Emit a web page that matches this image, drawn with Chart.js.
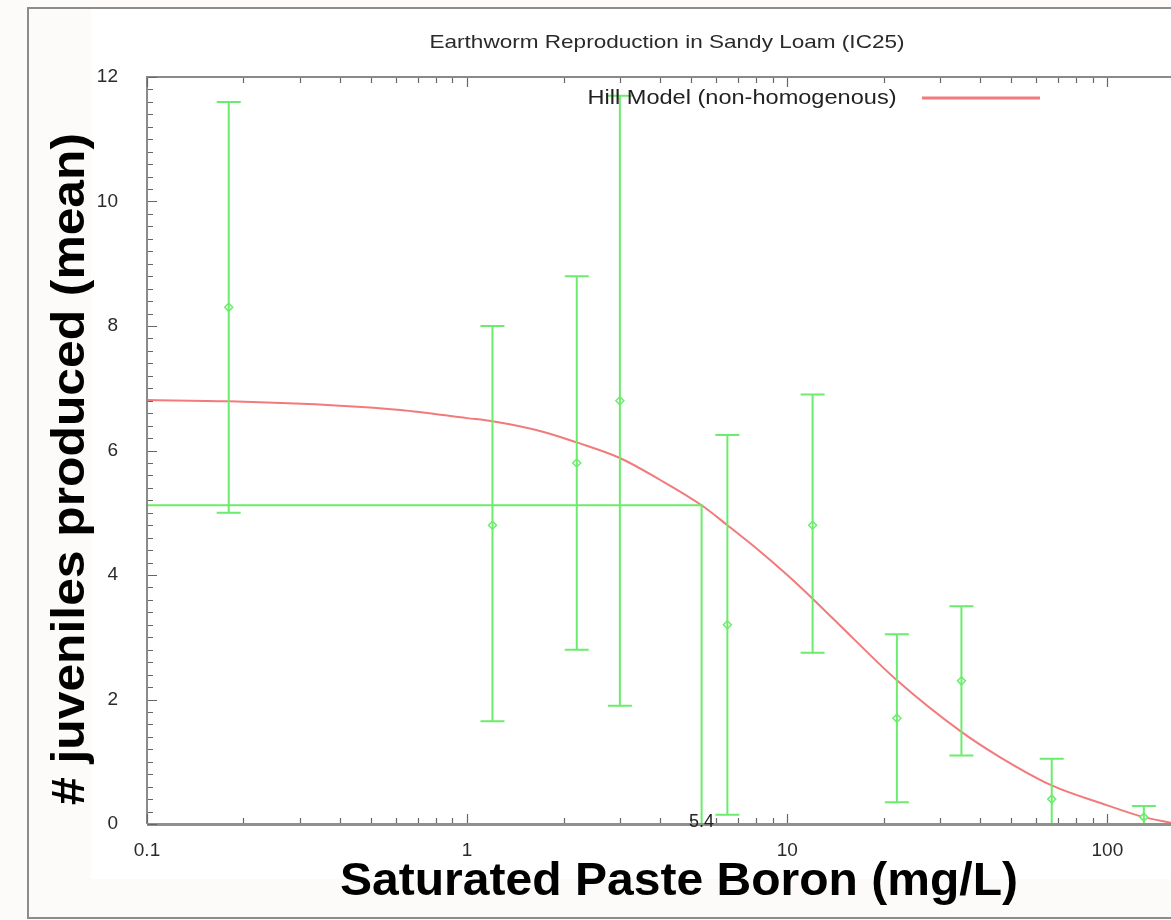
<!DOCTYPE html>
<html>
<head>
<meta charset="utf-8">
<script src="https://cdn.jsdelivr.net/npm/chart.js@4"></script>
<style>
  html, body { margin: 0; padding: 0; background: #fcfbf9; }
  #chart { display: block; }
</style>
</head>
<body>
<canvas id="chart" width="1171" height="920"></canvas>
<script>
// Measured doses (mg/L) with mean juveniles and error bar limits
const doses = [0.18, 1.2, 2.2, 3.0, 6.5, 12, 22, 35, 67, 130];
const means = [8.3, 4.8, 5.8, 6.8, 3.2, 4.8, 1.7, 2.3, 0.4, 0.11];
const upper = [11.6, 8.0, 8.8, 11.7, 6.25, 6.9, 3.05, 3.5, 1.05, 0.29];
const lower = [5.0, 1.65, 2.8, 1.9, 0.15, 2.75, 0.35, 1.1, -0.25, -0.07];

// Hill model curve
const hillDose = [0.1, 0.18, 0.4, 0.62, 1.0, 1.2, 1.7, 2.2, 3.0, 4.0, 5.4, 6.5, 8.0, 10, 12, 16, 22, 35, 46, 67, 100, 130, 158];
const hillResp = [6.81, 6.79, 6.72, 6.65, 6.52, 6.47, 6.31, 6.13, 5.88, 5.53, 5.12, 4.80, 4.43, 4.00, 3.62, 2.99, 2.31, 1.48, 1.08, 0.62, 0.30, 0.11, 0.02];

// IC25 marker
const ic25Dose = 5.4;
const ic25Resp = 5.12;

const xTicks = [0.1, 1, 10, 100];
const yTicks = [0, 2, 4, 6, 8, 10, 12];

const green = 'rgb(108,236,108)';
const red = 'rgb(242,122,122)';
const axisGrey = '#8a8a8a';
const FONT = '"Liberation Sans", Arial, sans-serif';

// draw text squeezed/stretched to a target width
function fitText(ctx, text, cx, cy, w, font, color, rot) {
    ctx.save();
    ctx.translate(cx, cy);
    if (rot) ctx.rotate(rot);
    ctx.font = font;
    const m = ctx.measureText(text).width;
    ctx.scale(w / m, 1);
    ctx.textAlign = 'center';
    ctx.textBaseline = 'middle';
    ctx.fillStyle = color;
    ctx.fillText(text, 0, 0);
    ctx.restore();
}

const framePlugin = {
    id: 'frame',
    beforeDraw(chart) {
        const ctx = chart.ctx;
        ctx.save();
        ctx.fillStyle = '#fcfbf9';
        ctx.fillRect(0, 0, chart.width, chart.height);
        ctx.fillStyle = '#ffffff';
        ctx.fillRect(91, 9, chart.width - 91, 870);
        ctx.strokeStyle = '#8c8c8c';
        ctx.lineWidth = 2;
        ctx.beginPath();
        ctx.moveTo(chart.width + 2, 8);
        ctx.lineTo(28, 8);
        ctx.lineTo(28, 918);
        ctx.lineTo(chart.width + 2, 918);
        ctx.stroke();
        ctx.restore();
    },
    afterDatasetsDraw(chart) {
        const ctx = chart.ctx;
        const xs = chart.scales.x, ys = chart.scales.y;
        const area = chart.chartArea;

        // error bars
        ctx.save();
        ctx.beginPath();
        ctx.rect(area.left, area.top, area.right - area.left, area.bottom - area.top);
        ctx.clip();
        ctx.strokeStyle = green;
        ctx.lineWidth = 2;
        doses.forEach((d, i) => {
            const px = xs.getPixelForValue(d);
            const pt = ys.getPixelForValue(upper[i]);
            const pb = ys.getPixelForValue(lower[i]);
            ctx.beginPath();
            ctx.moveTo(px, pt); ctx.lineTo(px, pb);
            ctx.moveTo(px - 12, pt); ctx.lineTo(px + 12, pt);
            ctx.moveTo(px - 12, pb); ctx.lineTo(px + 12, pb);
            ctx.stroke();
        });
        ctx.restore();

        // axes and inward ticks
        ctx.save();
        ctx.strokeStyle = axisGrey;
        ctx.lineWidth = 2;
        ctx.beginPath();
        ctx.moveTo(area.left, area.bottom);
        ctx.lineTo(area.left, area.top);
        ctx.lineTo(area.right, area.top);
        ctx.stroke();
        ctx.lineWidth = 3;
        ctx.strokeStyle = '#8f8f8f';
        ctx.beginPath();
        ctx.moveTo(area.left, area.bottom + 0.5);
        ctx.lineTo(area.right, area.bottom + 0.5);
        ctx.stroke();

        ctx.strokeStyle = '#666';
        ctx.lineWidth = 1.2;
        ctx.beginPath();
        for (let e = -1; e <= 2; e++) {
            for (let k = 1; k <= 9; k++) {
                const v = k * Math.pow(10, e);
                if (v < xs.min || v > xs.max) continue;
                const px = Math.round(xs.getPixelForValue(v)) + 0.5;
                const len = k === 1 ? 9 : 5;
                ctx.moveTo(px, area.bottom - 1); ctx.lineTo(px, area.bottom - 1 - len);
                ctx.moveTo(px, area.top + 1); ctx.lineTo(px, area.top + 1 + len);
            }
        }
        for (let i = 0; i <= 60; i++) {
            const v = i * 0.2;
            const py = Math.round(ys.getPixelForValue(v)) + 0.5;
            const len = i % 10 === 0 ? 9 : 5;
            ctx.moveTo(area.left + 1, py); ctx.lineTo(area.left + 1 + len, py);
        }
        ctx.stroke();
        ctx.restore();

        // tick labels
        ctx.save();
        ctx.fillStyle = '#2a2a2a';
        ctx.font = '19px ' + FONT;
        ctx.textBaseline = 'middle';
        ctx.textAlign = 'right';
        yTicks.forEach(v => ctx.fillText(String(v), area.left - 29, ys.getPixelForValue(v)));
        ctx.textAlign = 'center';
        xTicks.forEach(v => ctx.fillText(String(v), xs.getPixelForValue(v), area.bottom + 27));
        ctx.fillStyle = '#222';
        ctx.font = '18px ' + FONT;
        ctx.fillText(String(ic25Dose), xs.getPixelForValue(ic25Dose), area.bottom - 2);
        ctx.restore();

        // title, legend and axis titles
        fitText(ctx, 'Earthworm Reproduction in Sandy Loam (IC25)', 667, 43, 475, '19px ' + FONT, '#2a2a2a');
        fitText(ctx, 'Hill Model (non-homogenous)', 742, 98, 309, '20px ' + FONT, '#222');
        ctx.save();
        ctx.strokeStyle = red;
        ctx.lineWidth = 3;
        ctx.beginPath();
        ctx.moveTo(922, 98); ctx.lineTo(1040, 98);
        ctx.stroke();
        ctx.restore();
        fitText(ctx, '# juveniles produced (mean)', 71, 469, 672, 'bold 46px ' + FONT, '#000', -Math.PI / 2);
        fitText(ctx, 'Saturated Paste Boron (mg/L)', 679, 882, 678, 'bold 46px ' + FONT, '#000');
    }
};

new Chart(document.getElementById('chart'), {
    type: 'scatter',
    data: {
        datasets: [
            {
                label: 'Means',
                data: doses.map((d, i) => ({ x: d, y: means[i] })),
                pointStyle: 'rectRot',
                pointRadius: 4,
                borderColor: green,
                backgroundColor: '#ffffff',
                borderWidth: 1.5,
                showLine: false,
                order: 1
            },
            {
                label: 'IC25',
                data: [{ x: 0.1, y: ic25Resp }, { x: ic25Dose, y: ic25Resp }, { x: ic25Dose, y: 0 }],
                showLine: true,
                borderColor: green,
                borderWidth: 2,
                pointRadius: 0,
                order: 2
            },
            {
                label: 'Hill Model (non-homogenous)',
                data: hillDose.map((d, i) => ({ x: d, y: hillResp[i] })),
                showLine: true,
                borderColor: red,
                borderWidth: 2,
                pointRadius: 0,
                cubicInterpolationMode: 'monotone',
                order: 3
            }
        ]
    },
    options: {
        responsive: false,
        animation: false,
        devicePixelRatio: 1,
        layout: { autoPadding: false, padding: { left: 147, top: 77, right: 0, bottom: 96 } },
        scales: {
            x: { type: 'logarithmic', min: 0.1, max: 158, display: false },
            y: { type: 'linear', min: 0, max: 12, display: false }
        },
        plugins: { legend: { display: false }, tooltip: { enabled: false } }
    },
    plugins: [framePlugin]
});
</script>
</body>
</html>
